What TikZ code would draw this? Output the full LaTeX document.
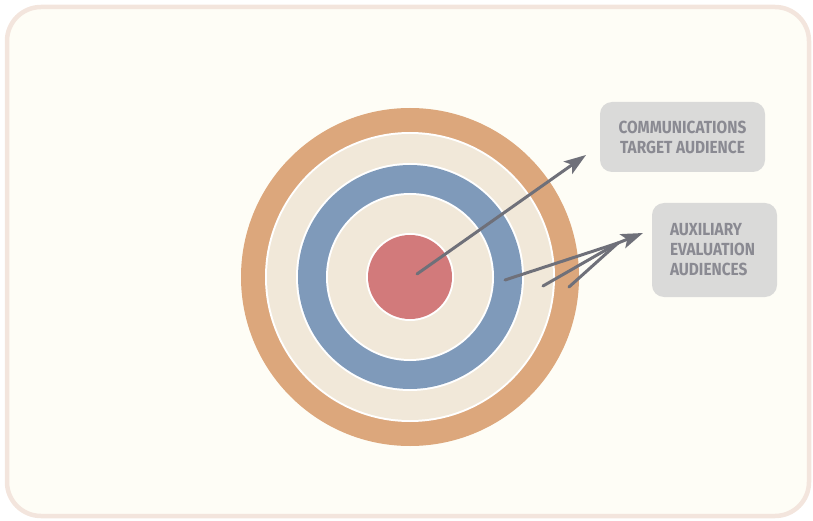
\documentclass[tikz,border=0pt]{standalone}
\usepackage{fontspec}
\newfontfamily\boxfont[FakeStretch=0.88]{Fira Sans}
\usetikzlibrary{arrows.meta}
\definecolor{bgfill}{HTML}{FEFDF6}
\definecolor{bgline}{HTML}{F3E5DD}
\definecolor{ringorange}{HTML}{DCA77C}
\definecolor{ringcream}{HTML}{F1E8D9}
\definecolor{ringblue}{HTML}{7F9ABA}
\definecolor{ringred}{HTML}{D27A7B}
\definecolor{arrowgray}{HTML}{6F7079}
\definecolor{boxfill}{HTML}{DADAD9}
\definecolor{boxtext}{HTML}{8A8A92}
\tikzset{
  ring/.style={circle, draw=none, inner sep=0pt, minimum size=#1},
  labelbox/.style={rectangle, rounded corners=12pt, fill=boxfill, draw=none,
     font=\boxfont\bfseries\fontsize{17.5}{20}\selectfont, text=boxtext},
  pointer/.style={draw=arrowgray, line width=3pt, line cap=round},
  tipstyle/.style={-{Stealth[length=22pt,width=15pt,inset=5pt]}}
}
\begin{document}
\begin{tikzpicture}[x=1pt,y=-1pt]
\useasboundingbox (0,0) rectangle (813,521);
\draw[bgline, fill=bgfill, line width=4.5pt, rounded corners=34pt] (7,7) rectangle (809,516);
% target
\node[ring=338pt, fill=ringorange] (outer) at (410,277) {};
\node[ring=290pt, fill=white] at (outer.center) {};
\node[ring=286pt, fill=ringcream] (ring2) at (outer.center) {};
\node[ring=228pt, fill=white] at (outer.center) {};
\node[ring=224pt, fill=ringblue] (ring3) at (outer.center) {};
\node[ring=168pt, fill=white] at (outer.center) {};
\node[ring=164pt, fill=ringcream] (ring4) at (outer.center) {};
\node[ring=88pt, fill=white] at (outer.center) {};
\node[ring=84pt, fill=ringred] (bull) at (outer.center) {};
% boxes
\node[labelbox, minimum width=165pt, minimum height=70pt, align=center] (comm) at (682.5,137) {COMMUNICATIONS\\TARGET AUDIENCE};
\node[labelbox, inner xsep=18pt, text width=89pt, minimum height=94pt, align=left] (aux) at (714.5,250) {AUXILIARY\\EVALUATION\\AUDIENCES};
% arrow coordinates
\coordinate (a1s) at (417,274);
\coordinate (a1t) at (586,155);
\coordinate (s1) at (505,280);
\coordinate (s2) at (543,286);
\coordinate (s3) at (569,287);
\coordinate (meet) at (618,243);
\coordinate (a2t) at (643,233);
\draw[pointer, tipstyle] (a1s) -- (a1t);
\draw[pointer] (s1) -- (meet);
\draw[pointer] (s2) -- (meet);
\draw[pointer] (s3) -- (meet);
\draw[pointer, tipstyle, line cap=butt] (meet) -- (a2t);
\end{tikzpicture}
\end{document}
